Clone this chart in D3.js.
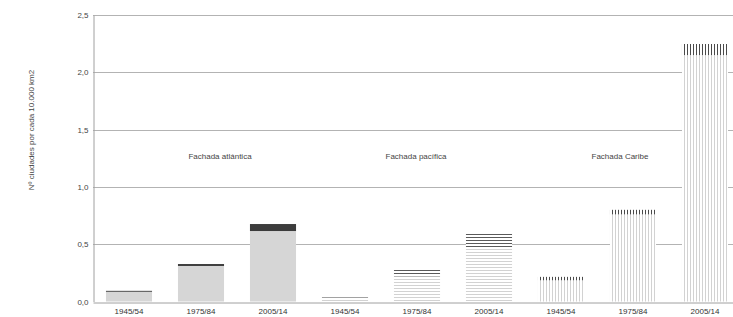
<!DOCTYPE html>
<html><head><meta charset="utf-8">
<script src="https://cdn.jsdelivr.net/npm/d3@7"></script>
<style>body{margin:0;background:#fff}svg{display:block;font-family:"Liberation Sans",Arial,sans-serif}</style>
</head><body><svg id="c" width="733" height="317"></svg>
<script>
const groups = ["Fachada atlántica", "Fachada pacífica", "Fachada Caribe"];
const periods = ["1945/54", "1975/84", "2005/14"];
// lower (light) segment and upper (dark) segment per group, per period
const lowerValues = [[0.085, 0.31, 0.615], [0.035, 0.22, 0.46], [0.185, 0.76, 2.15]];
const upperValues = [[0.008, 0.017, 0.061], [0.013, 0.062, 0.14], [0.03, 0.04, 0.097]];
const yTicks = [0, 0.5, 1, 1.5, 2, 2.5];
const yTitle = "Nº ciudades por cada 10.000 km2";

const svg = d3.select("#c");
const x0 = 93, yTop = 15, yBot = 301.5;
const cats = [];
groups.forEach((g, gi) => periods.forEach((p, pi) => cats.push({g: gi, p: pi, key: gi + "-" + pi, label: p,
  lo: lowerValues[gi][pi], up: upperValues[gi][pi]})));
const x = d3.scaleBand().domain(cats.map(d => d.key)).range([x0, x0 + 648]).paddingInner(0.36).paddingOuter(0.18);
const y = d3.scaleLinear().domain([0, 2.5]).range([yBot, yTop]);

const defs = svg.append("defs");
function pat(id, horiz, color) {
  const p = defs.append("pattern").attr("id", id).attr("patternUnits", "userSpaceOnUse")
    .attr("width", 3).attr("height", 3);
  p.append("rect").attr("width", 3).attr("height", 3).attr("fill", "#fff");
  if (horiz) p.append("rect").attr("x", 0).attr("y", 0).attr("width", 3).attr("height", 1).attr("fill", color);
  else p.append("rect").attr("x", 0).attr("y", 0).attr("width", 1).attr("height", 3).attr("fill", color);
}
pat("hL", true, "#d2d2d2"); pat("hD", true, "#5a5a5a");
pat("vL", false, "#d2d2d2"); pat("vD", false, "#4a4a4a");
const fills = [["#d6d6d6", "#3c3c3c"], ["url(#hL)", "url(#hD)"], ["url(#vL)", "url(#vD)"]];

// grid
svg.append("g").selectAll("line").data(yTicks.filter(t => t > 0)).join("line")
  .attr("x1", x0).attr("x2", 733).attr("y1", d => Math.round(y(d)) + 0.5).attr("y2", d => Math.round(y(d)) + 0.5)
  .attr("stroke", "#b3b3b3").attr("stroke-width", 1);

// bars
const bars = svg.append("g");
bars.selectAll("rect.lo").data(cats).join("rect").attr("class", "lo")
  .attr("x", d => x(d.key)).attr("width", x.bandwidth())
  .attr("y", d => y(d.lo)).attr("height", d => y(0) - y(d.lo))
  .attr("fill", d => fills[d.g][0]);
bars.selectAll("rect.up").data(cats).join("rect").attr("class", "up")
  .attr("x", d => x(d.key)).attr("width", x.bandwidth())
  .attr("y", d => y(d.lo + d.up)).attr("height", d => y(d.lo) - y(d.lo + d.up))
  .attr("fill", d => fills[d.g][1]);

// axes
const fmt = v => d3.format(".1f")(v).replace(".", ",");
const yAxis = svg.append("g").attr("transform", `translate(${x0 + 0.5},0)`)
  .call(d3.axisLeft(y).tickValues(yTicks).tickFormat(fmt).tickSize(0).tickPadding(5));
yAxis.select(".domain").attr("stroke", "#a0a0a0");
yAxis.selectAll("text").attr("fill", "#444").attr("font-size", 8).attr("font-family", "Liberation Sans, Arial, sans-serif");

const xAxis = svg.append("g").attr("transform", `translate(0,${Math.round(yBot) + 0.5})`)
  .call(d3.axisBottom(x).tickFormat(k => cats.find(c => c.key === k).label).tickSize(0).tickPadding(6));
xAxis.select(".domain").attr("stroke", "#a0a0a0");
xAxis.selectAll("text").attr("fill", "#333").attr("font-size", 8).attr("font-family", "Liberation Sans, Arial, sans-serif");

// group labels
svg.append("g").selectAll("text").data(groups).join("text")
  .attr("x", (d, i) => x(i + "-1") + x.bandwidth() / 2 + [19, -1, -13][i] + 0)
  .attr("y", 159).attr("text-anchor", "middle").attr("font-size", 8).attr("fill", "#444").text(d => d);

// y title
svg.append("text").attr("transform", "translate(34,130) rotate(-90)").attr("text-anchor", "middle")
  .attr("font-size", 8).attr("fill", "#444").text(yTitle);
</script></body></html>
